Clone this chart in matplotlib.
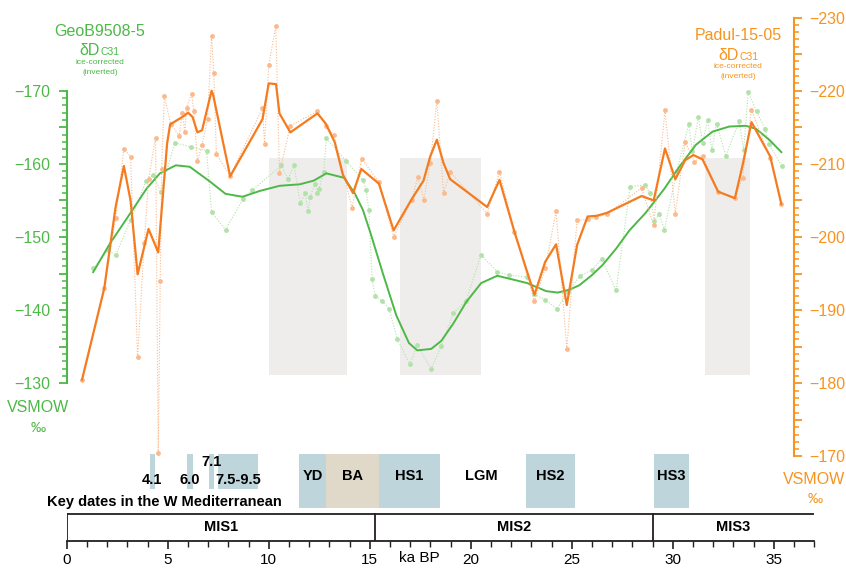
import numpy as np
import matplotlib
matplotlib.use('Agg')
import matplotlib.pyplot as plt
from matplotlib.patches import Rectangle
from matplotlib.ticker import FixedLocator, FuncFormatter

plt.rcParams.update({'font.family': ['Liberation Sans', 'DejaVu Sans'], 'font.size': 10})

# ---- data (ka BP, per mil VSMOW) ----
# GeoB9508-5 raw points and smoothed curve (left axis)
geob_x = [1.31, 2.06, 2.42, 3.16, 3.91, 4.28, 4.65, 5.35, 6.14, 6.92, 7.17, 7.86, 8.73, 9.19,
          10.63, 10.95, 11.25, 11.56, 11.81, 11.94, 12.06, 12.27, 12.39, 12.49, 12.72, 12.85,
          13.82, 14.66, 14.81, 14.96, 15.11, 15.27, 15.62, 15.95, 16.36, 16.97, 17.35, 18.04,
          18.54, 19.14, 19.77, 20.51, 21.31, 21.91, 22.79, 23.11, 23.69, 24.27, 24.80, 25.41,
          26.00, 26.48, 27.19, 27.89, 28.62, 28.87, 29.08, 29.33, 29.58, 30.20, 30.78, 30.97,
          31.26, 31.47, 31.72, 31.93, 32.16, 32.62, 33.28, 33.50, 33.73, 34.14, 34.57, 34.77, 35.39]
geob_d = [-145.7, -148.2, -147.5, -152.3, -157.6, -158.5, -156.2, -162.9, -162.3, -161.8, -153.4,
          -151.0, -155.2, -156.4, -159.8, -157.9, -159.8, -154.6, -156.0, -153.5, -155.4, -157.3,
          -156.0, -156.6, -158.9, -163.5, -160.4, -157.8, -156.4, -153.7, -144.2, -142.0, -141.2,
          -140.2, -136.1, -132.6, -135.2, -132.0, -135.1, -139.6, -141.3, -147.6, -145.2, -144.8,
          -144.5, -142.2, -141.4, -140.2, -142.5, -144.7, -145.5, -147.0, -142.7, -156.9, -157.1,
          -156.0, -152.2, -153.1, -151.0, -159.0, -165.4, -161.7, -166.4, -162.9, -166.0, -161.9,
          -165.5, -161.1, -165.8, -161.9, -169.8, -167.2, -164.7, -162.7, -159.7]
geob_smooth_x = [1.31, 2.14, 3.21, 3.95, 4.61, 5.40, 6.09, 7.08, 7.86, 8.70, 9.56, 10.54, 11.53,
                 12.22, 12.85, 13.72, 14.25, 14.66, 15.04, 15.65, 16.31, 16.94, 17.35, 18.04,
                 18.54, 19.14, 19.77, 20.51, 21.31, 21.91, 22.79, 23.73, 24.30, 24.88, 25.37,
                 26.00, 26.53, 27.19, 27.85, 28.62, 29.08, 29.58, 30.32, 31.14, 31.96, 32.79,
                 33.61, 34.11, 34.77, 35.37]
geob_smooth_d = [-145.2, -149.1, -153.5, -156.6, -158.7, -159.8, -159.6, -157.6, -155.9, -155.5,
                 -156.3, -157.0, -157.2, -157.7, -158.7, -158.1, -156.0, -153.7, -150.5, -145.0,
                 -139.3, -135.5, -134.5, -134.7, -135.8, -138.2, -141.1, -143.7, -144.7, -144.3,
                 -143.7, -142.6, -142.4, -142.8, -143.4, -144.8, -146.2, -148.4, -150.9, -153.2,
                 -154.8, -156.6, -159.6, -162.6, -164.4, -165.1, -165.2, -164.8, -163.3, -161.6]

# Padul-15-05 raw points and smoothed curve (right axis)
padul_x = [0.76, 1.86, 2.42, 2.83, 3.16, 3.51, 3.84, 4.05, 4.40, 4.53, 4.63, 4.70, 4.83, 5.14,
           5.57, 5.72, 5.85, 5.93, 6.18, 6.29, 6.47, 6.70, 6.97, 7.17, 7.28, 7.41, 8.09, 9.69,
           9.79, 10.00, 10.35, 10.53, 11.07, 12.41, 12.82, 13.23, 14.12, 14.60, 15.45, 16.18,
           17.08, 17.38, 17.68, 17.99, 18.32, 18.65, 18.98, 20.81, 21.42, 22.16, 23.15, 23.68,
           24.22, 24.75, 25.26, 25.78, 26.20, 26.74, 28.45, 29.05, 29.61, 30.12, 30.61, 31.06,
           31.47, 32.24, 33.07, 33.45, 33.89, 34.82, 35.37]
padul_d = [-180.5, -193.0, -202.6, -212.0, -211.0, -183.6, -199.2, -207.9, -213.6, -170.5, -194.0,
           -209.3, -219.3, -215.5, -213.8, -217.0, -214.4, -217.7, -219.6, -217.2, -210.4, -212.6,
           -216.1, -227.5, -222.4, -211.3, -208.4, -217.6, -212.7, -223.5, -228.8, -208.8, -215.2,
           -217.2, -215.2, -213.9, -204.0, -210.7, -207.5, -200.0, -205.1, -208.2, -205.1, -210.1,
           -218.6, -206.0, -208.9, -203.2, -208.9, -200.7, -191.2, -195.7, -203.5, -184.7, -202.3,
           -202.4, -202.7, -203.1, -206.7, -201.6, -217.3, -203.2, -213.0, -210.3, -211.1, -206.2,
           -205.3, -208.1, -217.4, -210.8, -204.5]
padul_smooth_x = [0.76, 1.86, 2.42, 2.83, 3.16, 3.51, 4.05, 4.53, 4.97, 5.12, 5.72, 6.01, 6.23,
                  6.47, 6.70, 7.17, 7.25, 8.09, 9.69, 10.00, 10.36, 10.53, 11.07, 12.41, 12.82,
                  13.26, 13.67, 14.17, 14.58, 15.45, 16.18, 17.08, 17.66, 17.99, 18.32, 18.65,
                  18.98, 20.81, 21.42, 22.16, 23.15, 23.68, 24.22, 24.75, 25.26, 25.78, 26.23,
                  26.74, 28.45, 29.05, 29.61, 30.12, 30.61, 31.02, 31.47, 32.24, 33.07, 33.45,
                  33.89, 34.82, 35.37]
padul_smooth_d = [-180.5, -193.0, -204.1, -209.7, -205.0, -194.9, -201.1, -197.9, -212.8, -215.4,
                  -216.4, -217.0, -216.4, -214.3, -214.6, -220.0, -219.4, -208.3, -216.1, -221.0,
                  -220.9, -216.9, -214.3, -216.9, -215.5, -213.0, -208.5, -206.0, -209.3, -207.3,
                  -200.9, -205.2, -207.7, -211.0, -213.3, -210.1, -207.9, -204.1, -207.8, -200.7,
                  -192.1, -196.6, -199.0, -190.7, -198.9, -202.8, -202.9, -203.3, -205.6, -205.0,
                  -212.1, -207.9, -210.5, -211.2, -210.6, -206.2, -205.3, -209.8, -215.7, -211.0,
                  -204.5]

# grey shaded intervals
shade_start = [10.0, 16.48, 31.6]
shade_end = [13.86, 20.48, 33.83]

# key dates in the W Mediterranean
key_labels = ['4.1', '6.0', '7.1', '7.5-9.5']
key_start = [4.10, 5.93, 7.03, 7.50]
key_end = [4.38, 6.23, 7.30, 9.49]

# climate events
event_labels = ['YD', 'BA', 'HS1', 'LGM', 'HS2', 'HS3']
event_start = [11.50, 12.85, 15.45, 18.50, 22.74, 29.05]
event_end = [12.82, 15.45, 18.46, 22.50, 25.14, 30.78]
event_colors = ['#bdd5db', '#e0d9c9', '#bdd5db', 'none', '#bdd5db', '#bdd5db']

# marine isotope stages
mis_labels = ['MIS1', 'MIS2', 'MIS3']
mis_bounds = [0, 15.25, 29.0, 37]

# ---- colours ----
green = '#4db848'
green_lt = '#b2e2aa'
orange = '#f7941e'
orange_ln = '#f47b20'
orange_lt = '#fbba8e'
grey = '#eeedeb'
blue = '#bdd5db'

W, H = 846, 569
def fx(px):
    return px / W
def fy(py):
    return 1 - py / H

X0_PX, X1_PX = 66.7, 814.3       # pixel position of 0 and 37 ka
PX_PER_UNIT = 7.315
def left_val(py):
    return -170 + (py - 90.7) / PX_PER_UNIT

fig = plt.figure(figsize=(8.46, 5.69), dpi=100)
ax = fig.add_axes([fx(X0_PX), fy(541), fx(X1_PX - X0_PX), 541 / H])
ax.set_xlim(0, 37)
ax.set_ylim(left_val(541), left_val(0))
ax.patch.set_visible(False)

for s, e in zip(shade_start, shade_end):
    ax.add_patch(Rectangle((s, -160.8), e - s, 29.7, color=grey, lw=0, zorder=0))

ax.plot(geob_x, geob_d, ls=(0, (1, 1.5)), lw=0.8, color=green_lt, marker='o', ms=3.5,
        mec='none', mfc=green_lt, zorder=2)
ax.plot(geob_smooth_x, geob_smooth_d, color=green, lw=1.4, zorder=3)

ax2 = ax.twinx()
ax2.set_ylim(left_val(541) - 50, left_val(0) - 50)
ax2.plot(padul_x, padul_d, ls=(0, (1, 1.5)), lw=0.8, color=orange_lt, marker='o', ms=3.5,
         mec='none', mfc=orange_lt, zorder=2)
ax2.plot(padul_smooth_x, padul_smooth_d, color=orange_ln, lw=1.6, zorder=3)

def lab10(v, p):
    return f'{v:.0f}'.replace('-', '\u2212') if round(v) % 10 == 0 else ''

# left axis
for sp in ['top', 'right']:
    ax.spines[sp].set_visible(False)
ax.spines['left'].set_bounds(-170, -130)
ax.spines['left'].set_color(green)
ax.spines['left'].set_linewidth(1.5)
ax.yaxis.set_major_locator(FixedLocator(np.arange(-170, -129, 5)))
ax.yaxis.set_minor_locator(FixedLocator(np.arange(-170, -129, 1)))
ax.yaxis.set_major_formatter(FuncFormatter(lab10))
ax.tick_params(axis='y', which='major', length=6, width=1.3, color=green, labelcolor=green,
               labelsize=11.5, pad=6)
ax.tick_params(axis='y', which='minor', length=3.5, width=1.1, color=green)

# bottom axis
ax.spines['bottom'].set_bounds(0, 37)
ax.spines['bottom'].set_linewidth(1.3)
ax.spines['bottom'].set_color('#231f20')
ax.xaxis.set_major_locator(FixedLocator(np.arange(0, 36, 5)))
ax.xaxis.set_minor_locator(FixedLocator(np.arange(0, 38, 1)))
ax.tick_params(axis='x', which='major', length=6, width=1.2, color='#231f20', labelsize=11, pad=3)
ax.tick_params(axis='x', which='minor', length=4, width=1.0, color='#231f20')

# right axis
for sp in ['top', 'left', 'bottom']:
    ax2.spines[sp].set_visible(False)
ax2.spines['right'].set_position(('data', 36.0))
ax2.spines['right'].set_bounds(-230, -170)
ax2.spines['right'].set_color(orange)
ax2.spines['right'].set_linewidth(1.5)
ax2.yaxis.set_major_locator(FixedLocator(np.arange(-230, -169, 5)))
ax2.yaxis.set_minor_locator(FixedLocator(np.arange(-230, -169, 1)))
ax2.yaxis.set_major_formatter(FuncFormatter(lab10))
ax2.tick_params(axis='y', which='major', length=6, width=1.3, color=orange, labelcolor=orange,
                labelsize=11.5, pad=5)
ax2.tick_params(axis='y', which='minor', length=3.5, width=1.1, color=orange)

# event strip below the curves
ev = fig.add_axes([fx(X0_PX), fy(541), fx(X1_PX - X0_PX), 91 / H], sharex=ax)
ev.set_ylim(541, 450)
ev.axis('off')
key_rows = [480, 480, 462, 480]
for lab, s, e, row in zip(key_labels, key_start, key_end, key_rows):
    ev.add_patch(Rectangle((s, 454), e - s, 35, color=blue, lw=0))
    ev.text((s + e) / 2, row, lab, ha='center', va='center', fontsize=10.5, fontweight='bold')
for lab, s, e, c in zip(event_labels, event_start, event_end, event_colors):
    if c != 'none':
        ev.add_patch(Rectangle((s, 454), e - s, 54, color=c, lw=0))
    ev.text((s + e) / 2, 476, lab, ha='center', va='center', fontsize=10.5, fontweight='bold')

ev.plot([mis_bounds[0], mis_bounds[-1]], [513.5, 513.5], color='#231f20', lw=1.3)
for b in mis_bounds[:-1]:
    ev.plot([b, b], [513.5, 541], color='#231f20', lw=1.3)
for lab, s, e in zip(mis_labels, mis_bounds[:-1], mis_bounds[1:]):
    ev.text((s + e) / 2, 527, lab, ha='center', va='center', fontsize=10.5, fontweight='bold')

fig.text(fx(47), fy(502), 'Key dates in the W Mediterranean', ha='left', va='center',
         fontsize=10.5, fontweight='bold')
fig.text(fx(419), fy(558), 'ka BP', ha='center', va='center', fontsize=11)

# axis titles
fig.text(fx(100), fy(32), 'GeoB9508-5', ha='center', va='center', fontsize=11.5, color=green)
fig.text(fx(100), fy(55), '\u03b4D', ha='right', va='baseline', fontsize=11.5, color=green)
fig.text(fx(100.5), fy(55), 'C31', ha='left', va='baseline', fontsize=7.5, color=green)
fig.text(fx(100), fy(62), 'ice-corrected', ha='center', va='center', fontsize=6, color=green)
fig.text(fx(100), fy(72), '(inverted)', ha='center', va='center', fontsize=6, color=green)
fig.text(fx(38), fy(408), 'VSMOW', ha='center', va='center', fontsize=11.5, color=green)
fig.text(fx(38), fy(428), '\u2030', ha='center', va='center', fontsize=11, color=green)

fig.text(fx(738), fy(36), 'Padul-15-05', ha='center', va='center', fontsize=11.5, color=orange)
fig.text(fx(738.5), fy(60), '\u03b4D', ha='right', va='baseline', fontsize=11.5, color=orange)
fig.text(fx(739), fy(60), 'C31', ha='left', va='baseline', fontsize=7.5, color=orange)
fig.text(fx(738), fy(67), 'ice-corrected', ha='center', va='center', fontsize=6, color=orange)
fig.text(fx(738), fy(77), '(inverted)', ha='center', va='center', fontsize=6, color=orange)
fig.text(fx(814), fy(479), 'VSMOW', ha='center', va='center', fontsize=11.5, color=orange)
fig.text(fx(815), fy(499), '\u2030', ha='center', va='center', fontsize=11, color=orange)

fig.savefig('out.png', dpi=100)
